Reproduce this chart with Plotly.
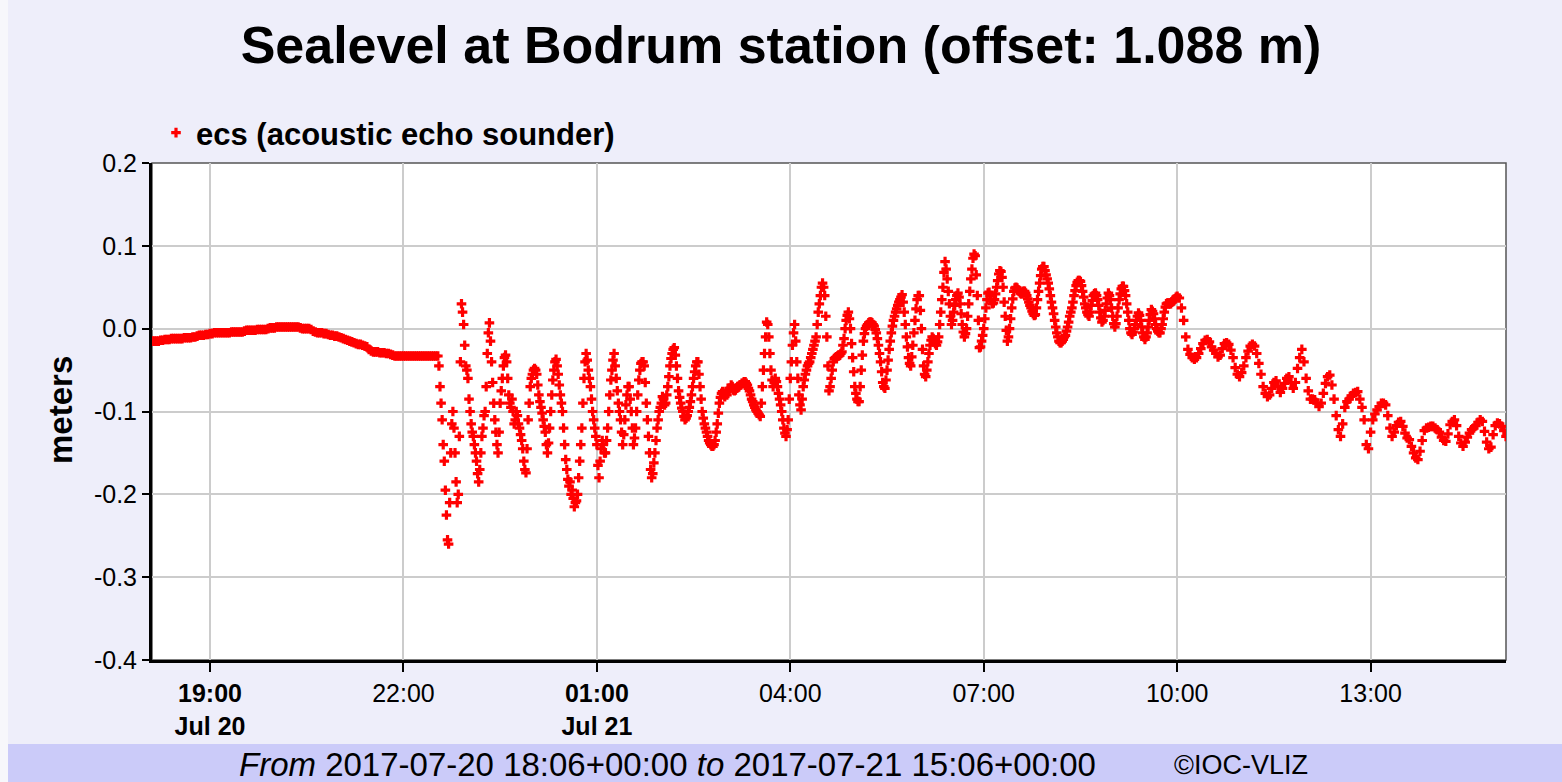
import pandas as pd
import plotly.graph_objects as go

# ---- data: sea level (m); calm parts every 2 min, seiche part every 1 min ----
sl_18 = [-0.015, -0.015, -0.015, -0.015, -0.014, -0.014, -0.013, -0.013, -0.013, -0.012,
         -0.012, -0.012, -0.012, -0.012, -0.012, -0.011, -0.011, -0.011, -0.011, -0.010,
         -0.010, -0.009, -0.008, -0.008, -0.008, -0.007, -0.007]
sl_19 = [-0.006, -0.006, -0.005, -0.005, -0.005, -0.005, -0.005, -0.005, -0.005, -0.005,
         -0.004, -0.004, -0.004, -0.004, -0.004, -0.004, -0.003, -0.002, -0.002, -0.002,
         -0.002, -0.002, -0.001, -0.001, -0.001, -0.001, -0.001, 0.000, 0.001, 0.001]
sl_20 = [0.001, 0.002, 0.002, 0.002, 0.002, 0.002, 0.002, 0.002, 0.002, 0.002,
         0.002, 0.002, 0.001, 0.000, 0.000, 0.000, 0.000, -0.001, -0.003, -0.004,
         -0.005, -0.005, -0.005, -0.006, -0.006, -0.007, -0.008, -0.008, -0.009, -0.009]
sl_21 = [-0.010, -0.011, -0.012, -0.013, -0.014, -0.015, -0.016, -0.017, -0.018, -0.019,
         -0.019, -0.020, -0.021, -0.022, -0.025, -0.027, -0.028, -0.028, -0.028, -0.029,
         -0.029, -0.029, -0.030, -0.030, -0.031, -0.032, -0.033, -0.033, -0.033, -0.033]
sl_22a = [-0.033, -0.033, -0.033, -0.033, -0.033, -0.033, -0.033, -0.033, -0.033, -0.033,
          -0.033, -0.033, -0.033, -0.033, -0.033, -0.033, -0.033]
sl_22b = [-0.045, -0.070, -0.090, -0.110, -0.140, -0.160, -0.195, -0.225, -0.255, -0.260,
          -0.210, -0.150, -0.115, -0.100, -0.120, -0.150, -0.185, -0.210, -0.200, -0.130,
          -0.040, 0.030, 0.020, 0.005, -0.020, -0.045, -0.050]
sl_23 = [-0.060, -0.085, -0.100, -0.115, -0.125, -0.130, -0.140, -0.150, -0.160, -0.175,
         -0.185, -0.170, -0.150, -0.130, -0.120, -0.105, -0.100, -0.070, -0.030, -0.005,
         0.007, -0.015, -0.040, -0.065, -0.090, -0.110, -0.125, -0.140, -0.150, -0.125,
         -0.090, -0.075, -0.060, -0.045, -0.035, -0.032, -0.040, -0.060, -0.080, -0.090,
         -0.095, -0.085, -0.100, -0.115, -0.110, -0.100, -0.105, -0.115, -0.120, -0.128,
         -0.135, -0.145, -0.160, -0.170, -0.174, -0.145, -0.110, -0.090, -0.070, -0.060]
sl_00 = [-0.055, -0.050, -0.048, -0.050, -0.055, -0.068, -0.080, -0.088, -0.095, -0.102,
         -0.110, -0.118, -0.125, -0.140, -0.150, -0.138, -0.120, -0.100, -0.080, -0.062,
         -0.050, -0.040, -0.037, -0.045, -0.055, -0.068, -0.080, -0.090, -0.100, -0.120,
         -0.140, -0.158, -0.170, -0.182, -0.190, -0.185, -0.200, -0.195, -0.205, -0.215,
         -0.210, -0.208, -0.200, -0.180, -0.160, -0.140, -0.120, -0.090, -0.060, -0.040,
         -0.030, -0.038, -0.050, -0.060, -0.070, -0.085, -0.100, -0.110, -0.120, -0.130]
sl_01 = [-0.140, -0.165, -0.180, -0.160, -0.145, -0.135, -0.140, -0.150, -0.150, -0.135,
         -0.120, -0.100, -0.080, -0.062, -0.050, -0.038, -0.030, -0.045, -0.060, -0.075,
         -0.090, -0.100, -0.110, -0.125, -0.140, -0.128, -0.110, -0.092, -0.080, -0.070,
         -0.070, -0.085, -0.100, -0.120, -0.140, -0.132, -0.120, -0.100, -0.080, -0.062,
         -0.050, -0.042, -0.040, -0.040, -0.045, -0.065, -0.090, -0.110, -0.130, -0.150,
         -0.170, -0.180, -0.175, -0.162, -0.150, -0.135, -0.120, -0.110, -0.100, -0.095]
sl_02 = [-0.090, -0.082, -0.085, -0.092, -0.090, -0.080, -0.070, -0.058, -0.045, -0.036,
         -0.030, -0.025, -0.023, -0.032, -0.045, -0.060, -0.075, -0.083, -0.090, -0.096,
         -0.100, -0.106, -0.110, -0.108, -0.105, -0.100, -0.095, -0.088, -0.080, -0.070,
         -0.060, -0.052, -0.045, -0.040, -0.040, -0.055, -0.070, -0.085, -0.100, -0.108,
         -0.115, -0.120, -0.125, -0.130, -0.135, -0.138, -0.140, -0.142, -0.142, -0.140,
         -0.135, -0.125, -0.115, -0.102, -0.090, -0.083, -0.078, -0.076, -0.080, -0.082]
sl_03 = [-0.078, -0.080, -0.075, -0.072, -0.072, -0.068, -0.070, -0.074, -0.075, -0.074,
         -0.072, -0.070, -0.070, -0.068, -0.068, -0.066, -0.066, -0.064, -0.064, -0.066,
         -0.068, -0.072, -0.075, -0.080, -0.085, -0.088, -0.092, -0.095, -0.098, -0.100,
         -0.102, -0.104, -0.106, -0.090, -0.070, -0.050, -0.030, -0.010, 0.008, 0.005,
         -0.010, -0.030, -0.050, -0.062, -0.070, -0.065, -0.060, -0.064, -0.070, -0.078,
         -0.085, -0.092, -0.100, -0.110, -0.120, -0.126, -0.130, -0.122, -0.110, -0.085]
sl_04 = [-0.060, -0.040, -0.020, -0.005, 0.005, -0.015, -0.040, -0.060, -0.080, -0.092,
         -0.098, -0.085, -0.070, -0.062, -0.055, -0.050, -0.045, -0.042, -0.040, -0.035,
         -0.030, -0.025, -0.020, -0.015, -0.010, 0.005, 0.020, 0.030, 0.040, 0.050,
         0.055, 0.050, 0.040, 0.015, -0.010, -0.045, -0.075, -0.070, -0.060, -0.050,
         -0.040, -0.036, -0.035, -0.034, -0.033, -0.033, -0.032, -0.030, -0.028, -0.020,
         -0.012, 0.000, 0.010, 0.016, 0.020, 0.012, 0.000, -0.018, -0.035, -0.052]
sl_05 = [-0.070, -0.078, -0.085, -0.088, -0.088, -0.070, -0.050, -0.032, -0.015, -0.006,
         0.000, 0.003, 0.005, 0.007, 0.008, 0.008, 0.007, 0.005, 0.003, -0.001,
         -0.005, -0.012, -0.020, -0.030, -0.040, -0.052, -0.065, -0.070, -0.072, -0.062,
         -0.050, -0.038, -0.025, -0.015, -0.005, 0.003, 0.010, 0.015, 0.020, 0.024,
         0.028, 0.032, 0.035, 0.038, 0.041, 0.032, 0.020, 0.005, -0.010, -0.022,
         -0.035, -0.042, -0.045, -0.034, -0.020, -0.005, 0.010, 0.024, 0.035, 0.040]
sl_06 = [0.040, 0.022, 0.000, -0.025, -0.045, -0.055, -0.058, -0.050, -0.040, -0.030,
         -0.020, -0.014, -0.010, -0.012, -0.015, -0.018, -0.020, -0.016, -0.010, 0.005,
         0.020, 0.035, 0.050, 0.068, 0.081, 0.072, 0.060, 0.045, 0.030, 0.015,
         0.005, 0.010, 0.020, 0.028, 0.035, 0.040, 0.043, 0.038, 0.030, 0.018,
         0.005, -0.004, -0.010, -0.006, 0.000, 0.015, 0.030, 0.045, 0.060, 0.072,
         0.085, 0.090, 0.088, 0.065, 0.040, 0.010, -0.023, -0.022, -0.015, -0.008]
sl_07 = [0.000, 0.012, 0.025, 0.035, 0.043, 0.044, 0.040, 0.034, 0.030, 0.031,
         0.035, 0.042, 0.050, 0.058, 0.066, 0.070, 0.069, 0.062, 0.050, 0.032,
         0.015, -0.002, -0.015, -0.010, 0.000, 0.012, 0.025, 0.036, 0.045, 0.049,
         0.050, 0.049, 0.047, 0.045, 0.043, 0.042, 0.043, 0.045, 0.045, 0.043,
         0.040, 0.036, 0.032, 0.028, 0.025, 0.021, 0.018, 0.016, 0.017, 0.025,
         0.035, 0.045, 0.055, 0.064, 0.072, 0.075, 0.075, 0.070, 0.065, 0.060]
sl_08 = [0.055, 0.048, 0.040, 0.032, 0.025, 0.018, 0.010, 0.002, -0.005, -0.010,
         -0.015, -0.017, -0.017, -0.015, -0.013, -0.010, -0.008, -0.003, 0.002, 0.008,
         0.015, 0.020, 0.025, 0.032, 0.040, 0.046, 0.052, 0.056, 0.058, 0.058,
         0.057, 0.052, 0.045, 0.038, 0.030, 0.025, 0.020, 0.017, 0.015, 0.020,
         0.028, 0.034, 0.040, 0.042, 0.043, 0.040, 0.035, 0.028, 0.020, 0.013,
         0.008, 0.010, 0.015, 0.022, 0.030, 0.037, 0.043, 0.040, 0.035, 0.025]
sl_09 = [0.015, 0.006, 0.002, 0.006, 0.015, 0.025, 0.035, 0.042, 0.048, 0.051,
         0.051, 0.046, 0.040, 0.030, 0.020, 0.010, 0.000, -0.005, -0.007, -0.004,
         0.000, 0.005, 0.010, 0.015, 0.019, 0.016, 0.010, 0.002, -0.005, -0.010,
         -0.013, -0.010, -0.005, 0.002, 0.010, 0.017, 0.023, 0.021, 0.018, 0.012,
         0.005, 0.000, -0.003, -0.005, -0.005, 0.000, 0.005, 0.012, 0.020, 0.026,
         0.030, 0.031, 0.031, 0.030, 0.030, 0.032, 0.033, 0.035, 0.036, 0.038]
sl_10 = [0.039, 0.037, 0.025, 0.010, -0.010, -0.025, -0.031, -0.035, -0.037, -0.035,
         -0.030, -0.024, -0.018, -0.014, -0.013, -0.016, -0.022, -0.026, -0.030, -0.034,
         -0.032, -0.024, -0.018, -0.017, -0.019, -0.026, -0.035, -0.047, -0.055, -0.058]
sl_11 = [-0.053, -0.045, -0.035, -0.027, -0.021, -0.019, -0.021, -0.030, -0.042, -0.055,
         -0.070, -0.078, -0.082, -0.080, -0.072, -0.065, -0.063, -0.070, -0.077, -0.072,
         -0.066, -0.060, -0.058, -0.065, -0.072, -0.065, -0.048, -0.035, -0.025, -0.040]
sl_12 = [-0.060, -0.075, -0.085, -0.085, -0.086, -0.090, -0.094, -0.090, -0.078, -0.066,
         -0.058, -0.056, -0.068, -0.085, -0.105, -0.122, -0.130, -0.115, -0.095, -0.088,
         -0.085, -0.081, -0.078, -0.077, -0.076, -0.085, -0.095, -0.110, -0.140, -0.145]
sl_13 = [-0.125, -0.110, -0.103, -0.098, -0.094, -0.090, -0.090, -0.092, -0.105, -0.120,
         -0.130, -0.125, -0.117, -0.113, -0.112, -0.118, -0.126, -0.132, -0.134, -0.142,
         -0.150, -0.156, -0.158, -0.148, -0.135, -0.123, -0.120, -0.119, -0.118, -0.118]
sl_14 = [-0.120, -0.122, -0.125, -0.131, -0.135, -0.136, -0.127, -0.116, -0.112, -0.110,
         -0.117, -0.130, -0.138, -0.142, -0.137, -0.131, -0.126, -0.122, -0.120, -0.117,
         -0.113, -0.110, -0.112, -0.124, -0.137, -0.145, -0.143, -0.128, -0.117, -0.114]
sl_15 = [-0.115, -0.118, -0.123, -0.130]

chunk_starts = ["2017-07-20 18:06", "2017-07-20 19:00", "2017-07-20 20:00", "2017-07-20 21:00",
                "2017-07-20 22:00", "2017-07-20 22:33", "2017-07-20 23:00", "2017-07-21 00:00",
                "2017-07-21 01:00", "2017-07-21 02:00", "2017-07-21 03:00", "2017-07-21 04:00",
                "2017-07-21 05:00", "2017-07-21 06:00", "2017-07-21 07:00", "2017-07-21 08:00",
                "2017-07-21 09:00", "2017-07-21 10:00", "2017-07-21 11:00", "2017-07-21 12:00",
                "2017-07-21 13:00", "2017-07-21 14:00", "2017-07-21 15:00"]
chunk_values = [sl_18, sl_19, sl_20, sl_21, sl_22a, sl_22b, sl_23, sl_00, sl_01, sl_02, sl_03,
                sl_04, sl_05, sl_06, sl_07, sl_08, sl_09, sl_10, sl_11, sl_12, sl_13, sl_14, sl_15]
chunk_step_min = [2, 2, 2, 2, 2, 1, 1, 1, 1, 1, 1, 1, 1, 1, 1, 1, 1, 2, 2, 2, 2, 2, 2]

tick_vals = ["2017-07-20 19:00", "2017-07-20 22:00", "2017-07-21 01:00", "2017-07-21 04:00",
             "2017-07-21 07:00", "2017-07-21 10:00", "2017-07-21 13:00"]
tick_text = ["<b>19:00</b><br><b>Jul 20</b>", "22:00", "<b>01:00</b><br><b>Jul 21</b>",
             "04:00", "07:00", "10:00", "13:00"]
y_ticks = [-0.4, -0.3, -0.2, -0.1, 0.0, 0.1, 0.2]
y_tick_text = ["-0.4", "-0.3", "-0.2", "-0.1", "0.0", "0.1", "0.2"]

times, levels = [], []
for start, vals, step in zip(chunk_starts, chunk_values, chunk_step_min):
    t0 = pd.Timestamp(start)
    for k, v in enumerate(vals):
        times.append(t0 + pd.Timedelta(minutes=step * k))
        levels.append(v)

FONT = "Liberation Sans, Arial, sans-serif"
W, H = 1562, 782
L, R, T, B = 152, 56, 163, 122
PW, PH = W - L - R, H - T - B


def px(x):
    return (x - L) / PW


def py(y):
    return (H - B - y) / PH


fig = go.Figure()
fig.add_trace(go.Scatter(
    x=times, y=levels, mode="markers", name="ecs (acoustic echo sounder)",
    marker=dict(symbol="cross", size=8, color="#ff0000", line=dict(width=0)),
))

fig.update_layout(
    width=W, height=H,
    margin=dict(l=L, r=R, t=T, b=B),
    paper_bgcolor="#eeeefa",
    plot_bgcolor="#ffffff",
    font=dict(family=FONT, color="#000000"),
    title=dict(text="<b>Sealevel at Bodrum station (offset: 1.088 m)</b>",
               x=0.5, xanchor="center", y=1 - 45 / H, yanchor="middle",
               font=dict(size=52, family=FONT, color="#000000")),
    showlegend=True,
    legend=dict(x=px(156), y=py(133), xanchor="left", yanchor="middle",
                bgcolor="rgba(0,0,0,0)", font=dict(size=31, family=FONT, weight="bold"),
                itemsizing="trace"),
    xaxis=dict(
        type="date", range=["2017-07-20 18:06", "2017-07-21 15:06"],
        tickvals=tick_vals, ticktext=tick_text,
        showgrid=True, gridcolor="#cccccc", gridwidth=2,
        showline=True, linecolor="#000000", linewidth=3,
        ticks="outside", ticklen=9, tickwidth=2, tickcolor="#000000",
        tickfont=dict(size=25, family=FONT), zeroline=False,
    ),
    yaxis=dict(
        range=[-0.4, 0.2], tickvals=y_ticks, ticktext=y_tick_text,
        showgrid=True, gridcolor="#cccccc", gridwidth=2,
        showline=True, linecolor="#000000", linewidth=3,
        ticks="outside", ticklen=7, tickwidth=2, tickcolor="#000000",
        tickfont=dict(size=25, family=FONT), zeroline=False,
    ),
    shapes=[
        dict(type="rect", xref="paper", yref="paper", x0=0, x1=1, y0=0, y1=1,
             line=dict(color="#555555", width=1.5), layer="below"),
        dict(type="rect", xref="paper", yref="paper", x0=px(8), x1=px(W), y0=py(744), y1=py(H),
             line=dict(width=0), fillcolor="#cbcbf9", layer="below"),
        dict(type="rect", xref="paper", yref="paper", x0=px(0), x1=px(8), y0=py(H), y1=py(0),
             line=dict(width=0), fillcolor="#f7f7fb", layer="below"),
    ],
    annotations=[
        dict(text="<b>meters</b>", xref="paper", yref="paper", x=px(60), y=py(410),
             xanchor="center", yanchor="middle",
             textangle=-90, showarrow=False, font=dict(size=33, family=FONT)),
        dict(text="<i>From</i> 2017-07-20 18:06+00:00 <i>to</i> 2017-07-21 15:06+00:00",
             xref="paper", yref="paper", x=px(237), y=py(764), xanchor="left", yanchor="middle",
             showarrow=False, font=dict(size=33, family=FONT)),
        dict(text="©IOC-VLIZ", xref="paper", yref="paper", x=px(1172), y=py(765),
             xanchor="left", yanchor="middle", showarrow=False, font=dict(size=27, family=FONT)),
    ],
)

fig.write_html("out.html", config={"displayModeBar": False},
               post_script="document.body.style.margin='0px';document.body.style.padding='0px';")
